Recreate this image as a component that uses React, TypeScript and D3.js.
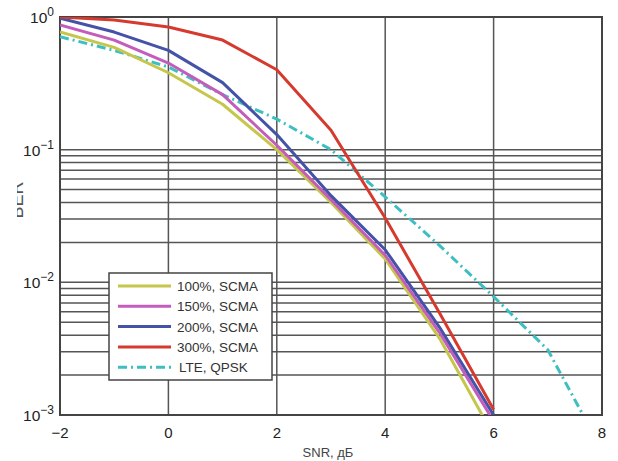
import React, { useEffect, useRef } from "react";
import * as d3 from "d3";

const xTicks = [-2, 0, 2, 4, 6, 8];
const yExps = [0, -1, -2, -3];

const snr = [-2, -1, 0, 1, 2, 3, 4, 5, 6];
const scma100 = [0.77, 0.59, 0.38, 0.22, 0.1, 0.04, 0.015, 0.0038, 0.0007];
const scma150 = [0.87, 0.67, 0.45, 0.26, 0.108, 0.042, 0.016, 0.0042, 0.0009];
const scma200 = [0.98, 0.77, 0.56, 0.32, 0.13, 0.045, 0.0176, 0.0046, 0.001];
const scma300 = [1.0, 0.95, 0.84, 0.67, 0.4, 0.14, 0.0305, 0.0059, 0.0011];
const lteSnr = [-2, -1, 0, 1, 2, 3, 4, 5, 6, 7, 7.65];
const lteQpsk = [0.71, 0.56, 0.42, 0.26, 0.17, 0.1, 0.044, 0.019, 0.0078, 0.0031, 0.001];

const seriesNames = ["100%, SCMA", "150%, SCMA", "200%, SCMA", "300%, SCMA", "LTE, QPSK"];
const seriesColors = ["#c6c64c", "#c45cbc", "#4452a8", "#d63a2e", "#3dbfc2"];

const App = () => {
  const ref = useRef<SVGSVGElement>(null);

  useEffect(() => {
    const svg = d3.select(ref.current);
    svg.selectAll("*").remove();

    const left = 60, right = 602, top = 17, bottom = 415;
    const x = d3.scaleLinear().domain([-2, 8]).range([left, right]);
    const y = d3.scaleLog().domain([1e-3, 1]).range([bottom, top]);
    const font = "'Liberation Sans', Arial, sans-serif";

    const defs = svg.append("defs");
    defs.append("clipPath").attr("id", "plot")
      .append("rect").attr("x", left).attr("y", top).attr("width", right - left).attr("height", bottom - top);
    // the axis label is cut off in the source image
    defs.append("clipPath").attr("id", "ylab")
      .append("rect").attr("x", 17).attr("y", 150).attr("width", 10).attr("height", 100);

    const grid = svg.append("g").attr("stroke", "#555").attr("stroke-width", 1.5);
    // horizontal grid only in the lower two decades
    const hLines: number[] = [];
    [-3, -2].forEach((e) => {
      for (let m = 2; m <= 10; m++) hLines.push(m * Math.pow(10, e));
    });
    grid.selectAll("line.h").data(hLines).enter().append("line")
      .attr("x1", left).attr("x2", right)
      .attr("y1", (d) => y(d)).attr("y2", (d) => y(d));
    grid.selectAll("line.v").data(xTicks.slice(1, -1)).enter().append("line")
      .attr("y1", top).attr("y2", bottom)
      .attr("x1", (d) => x(d)).attr("x2", (d) => x(d));

    svg.append("rect").attr("x", left).attr("y", top).attr("width", right - left).attr("height", bottom - top)
      .attr("fill", "none").attr("stroke", "#444").attr("stroke-width", 2);

    const line = d3.line<[number, number]>().x((d) => x(d[0])).y((d) => y(d[1]));
    const allSeries: [number, number][][] = [
      snr.map((s, i) => [s, scma100[i]]),
      snr.map((s, i) => [s, scma150[i]]),
      snr.map((s, i) => [s, scma200[i]]),
      snr.map((s, i) => [s, scma300[i]]),
      lteSnr.map((s, i) => [s, lteQpsk[i]]),
    ];
    const plot = svg.append("g").attr("clip-path", "url(#plot)");
    [4, 0, 1, 2, 3].forEach((i) => {
      plot.append("path").attr("d", line(allSeries[i])).attr("fill", "none")
        .attr("stroke", seriesColors[i]).attr("stroke-width", 3)
        .attr("stroke-linejoin", "round")
        .attr("stroke-dasharray", i === 4 ? "9,4,2,4" : null);
    });

    // legend
    const lg = svg.append("g");
    lg.append("rect").attr("x", 109).attr("y", 273).attr("width", 163).attr("height", 107)
      .attr("fill", "#fff").attr("stroke", "#444").attr("stroke-width", 1.5);
    seriesNames.forEach((n, i) => {
      const yy = 286 + i * 20.3;
      lg.append("line").attr("x1", 118).attr("x2", 171).attr("y1", yy).attr("y2", yy)
        .attr("stroke", seriesColors[i]).attr("stroke-width", 3)
        .attr("stroke-dasharray", i === 4 ? "9,4,2,4" : null);
      lg.append("text").attr("x", i === 4 ? 179 : 177).attr("y", yy + 5).text(n)
        .attr("font-family", font).attr("font-size", 13.5).attr("fill", "#333");
    });

    // x ticks
    svg.selectAll("text.xt").data(xTicks).enter().append("text")
      .attr("x", (d) => x(d)).attr("y", 438).attr("text-anchor", "middle")
      .attr("font-family", font).attr("font-size", 15).attr("fill", "#222")
      .text((d) => (d < 0 ? "\u2212" + Math.abs(d) : String(d)));
    svg.append("text").attr("x", 328).attr("y", 457).attr("text-anchor", "middle")
      .attr("font-family", font).attr("font-size", 13).attr("fill", "#444").text("SNR, дБ");

    // y ticks
    yExps.forEach((e) => {
      const t = svg.append("text").attr("x", 54).attr("y", y(Math.pow(10, e)) + 6)
        .attr("text-anchor", "end").attr("font-family", font).attr("font-size", 15.5).attr("fill", "#222");
      t.append("tspan").text("10");
      t.append("tspan").attr("dy", -7).attr("font-size", 12).text(e < 0 ? "\u2212" + Math.abs(e) : "0");
    });

    svg.append("g").attr("clip-path", "url(#ylab)")
      .append("text").attr("transform", "translate(23,200) rotate(-90)").attr("text-anchor", "middle")
      .attr("font-family", font).attr("font-size", 18).attr("fill", "#555").text("BER");
  }, []);

  return (
    <svg ref={ref} width={618} height={461} style={{ position: "absolute", left: 0, top: 0, background: "#fff" }} />
  );
};

export default App;
